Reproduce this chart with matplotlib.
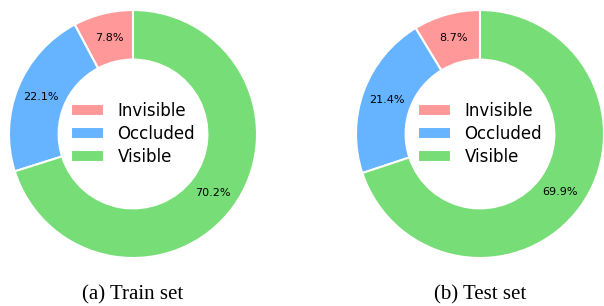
import matplotlib
matplotlib.use("Agg")
import matplotlib.pyplot as plt

categories = ["Invisible", "Occluded", "Visible"]
train_values = [7.8, 22.1, 70.2]
test_values = [8.7, 21.4, 69.9]
captions = ["(a) Train set", "(b) Test set"]
colors = ["#ff9999", "#66b3ff", "#77dd77"]

fig = plt.figure(figsize=(6.04, 3.06), dpi=100)
W, H = 604, 306
R = 124
centers = [(133, 134), (480, 134)]
caption_y = 295

for (cx, cy), vals, cap in zip(centers, [train_values, test_values], captions):
    ax = fig.add_axes([(cx - R) / W, (H - cy - R) / H, 2 * R / W, 2 * R / H])
    total = sum(vals)
    wedges, texts, autotexts = ax.pie(
        vals, colors=colors, startangle=90, counterclock=True,
        autopct=lambda p, t=total: f"{p * t / 100:.1f}%", pctdistance=0.8,
        wedgeprops=dict(width=0.4, edgecolor="white", linewidth=1.5),
        textprops=dict(fontsize=8, color="black"),
    )
    ax.set_xlim(-1, 1)
    ax.set_ylim(-1, 1)
    ax.set_aspect("equal")
    ax.legend(wedges, categories, loc="center", frameon=False, fontsize=12,
              handlelength=2.0, labelspacing=0.3)
    fig.text(cx / W, (H - caption_y) / H, cap, ha="center", va="center",
             fontsize=15, family="Liberation Serif")

fig.savefig("out.png", dpi=100)
